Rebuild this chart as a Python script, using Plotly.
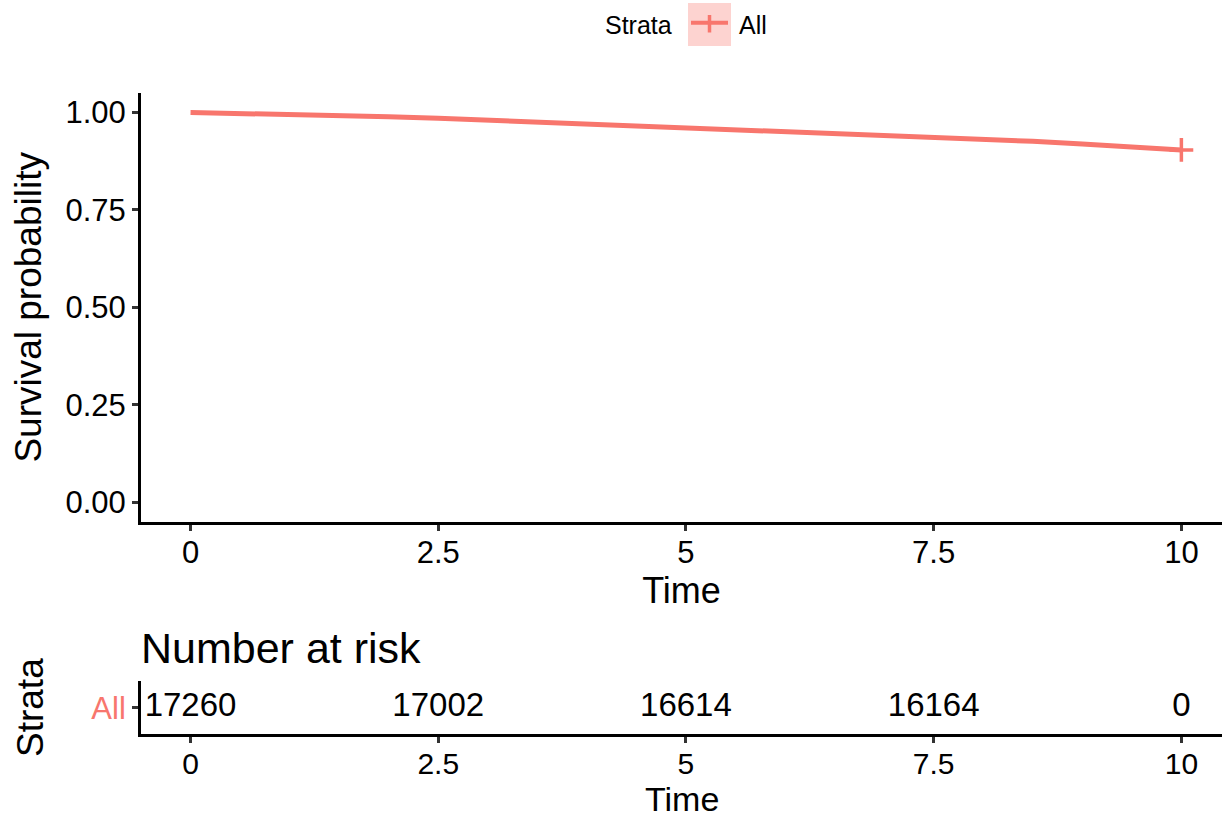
import plotly.graph_objects as go

# ---- data ----
time_pts = [0, 0.5, 1.0, 1.5, 2.0, 2.5, 3.0, 3.5, 4.0, 4.5, 5.0,
            5.5, 6.0, 6.5, 7.0, 7.5, 8.0, 8.5, 9.0, 9.5, 10.0]
surv = [1.000, 0.998, 0.996, 0.993, 0.989, 0.985, 0.980, 0.975, 0.970, 0.966, 0.962,
        0.957, 0.953, 0.948, 0.943, 0.938, 0.932, 0.926, 0.919, 0.911, 0.904]
censor_times = [10.0]
censor_surv = [0.904]
strata = ["All"]
risk_times = [0, 2.5, 5, 7.5, 10]
n_risk = [17260, 17002, 16614, 16164, 0]
x_tickvals = [0, 2.5, 5, 7.5, 10]
x_ticktext = ["0", "2.5", "5", "7.5", "10"]
y_tickvals = [0, 0.25, 0.5, 0.75, 1.0]
y_ticktext = ["0.00", "0.25", "0.50", "0.75", "1.00"]

W, H = 1222, 819
RED = "#F8766D"
FONT = "Liberation Sans, Arial, sans-serif"

def px(x):
    return x / W

def py(y):
    return 1 - y / H

fig = go.Figure()

fig.add_trace(go.Scatter(x=time_pts, y=surv, mode="lines", line=dict(color=RED, width=5),
                         name="All", showlegend=False, xaxis="x", yaxis="y"))
fig.add_trace(go.Scatter(x=censor_times, y=censor_surv, mode="markers",
                         marker=dict(symbol="cross-thin", size=17, line=dict(color=RED, width=3.5)),
                         showlegend=False, xaxis="x", yaxis="y"))
fig.add_trace(go.Scatter(x=risk_times, y=[strata[0]] * len(risk_times), mode="text",
                         text=[str(v) for v in n_risk], textposition="middle center",
                         textfont=dict(family=FONT, size=33, color="black"),
                         showlegend=False, xaxis="x2", yaxis="y2"))

xdom = [px(141), 1]
axis_common = dict(showline=True, linecolor="black", linewidth=3, ticks="outside", ticklen=6,
                   tickwidth=3, tickcolor="#333333", showgrid=False, zeroline=False,
                   automargin=False,
                   tickfont=dict(family=FONT, size=31, color="black"))

fig.update_layout(
    width=W, height=H, margin=dict(l=0, r=0, t=0, b=0),
    paper_bgcolor="white", plot_bgcolor="white",
    font=dict(family=FONT, color="black"),
    xaxis=dict(domain=xdom, range=[-0.5, 10.41], tickvals=x_tickvals, ticktext=x_ticktext,
               anchor="y", ticklabelstandoff=-5,
               title=dict(text="Time", font=dict(size=36), standoff=8), **axis_common),
    yaxis=dict(domain=[py(521.7), py(93)], range=[-0.05, 1.05], tickvals=y_tickvals, ticktext=y_ticktext,
               anchor="x", title=dict(text="Survival probability", font=dict(size=37), standoff=13), **axis_common),
    xaxis2=dict(domain=xdom, range=[-0.5, 10.41], tickvals=x_tickvals, ticktext=x_ticktext,
                anchor="y2", ticklabelstandoff=-5,
                **{**axis_common, "tickfont": dict(family=FONT, size=30, color="black")}),
    yaxis2=dict(domain=[py(734), py(681.3)], range=[-0.5, 0.5], type="category",
                anchor="x2", title=dict(text="Strata", font=dict(size=37), standoff=37),
                **{**axis_common, "tickfont": dict(family=FONT, size=31, color=RED)}),
)

# Risk table x-axis title (annotation, kept fully inside the figure)
fig.add_annotation(text="Time", xref="paper", yref="paper", x=(xdom[0] + xdom[1]) / 2, y=0,
                   xanchor="center", yanchor="bottom", showarrow=False, borderpad=0,
                   font=dict(family=FONT, size=34, color="black"))

# Risk table title
fig.add_annotation(text="Number at risk", xref="paper", yref="paper", x=px(139), y=py(648),
                   xanchor="left", yanchor="middle", showarrow=False,
                   font=dict(family=FONT, size=43, color="black"))

# Legend (drawn manually to mimic ggplot key)
fig.add_shape(type="rect", xref="paper", yref="paper", x0=px(688), x1=px(731), y0=py(46), y1=py(3),
              fillcolor="rgba(248,118,109,0.32)", line=dict(width=0), layer="below")
fig.add_shape(type="line", xref="paper", yref="paper", x0=px(691), x1=px(728), y0=py(22.7), y1=py(22.7),
              line=dict(color=RED, width=4))
fig.add_shape(type="line", xref="paper", yref="paper", x0=px(709.5), x1=px(709.5), y0=py(15), y1=py(32.5),
              line=dict(color=RED, width=3.5))
fig.add_annotation(text="Strata", xref="paper", yref="paper", x=px(674), y=py(25), xanchor="right",
                   yanchor="middle", showarrow=False, font=dict(family=FONT, size=25, color="black"))
fig.add_annotation(text="All", xref="paper", yref="paper", x=px(737), y=py(25), xanchor="left",
                   yanchor="middle", showarrow=False, font=dict(family=FONT, size=25, color="black"))

fig.write_html("out.html")
